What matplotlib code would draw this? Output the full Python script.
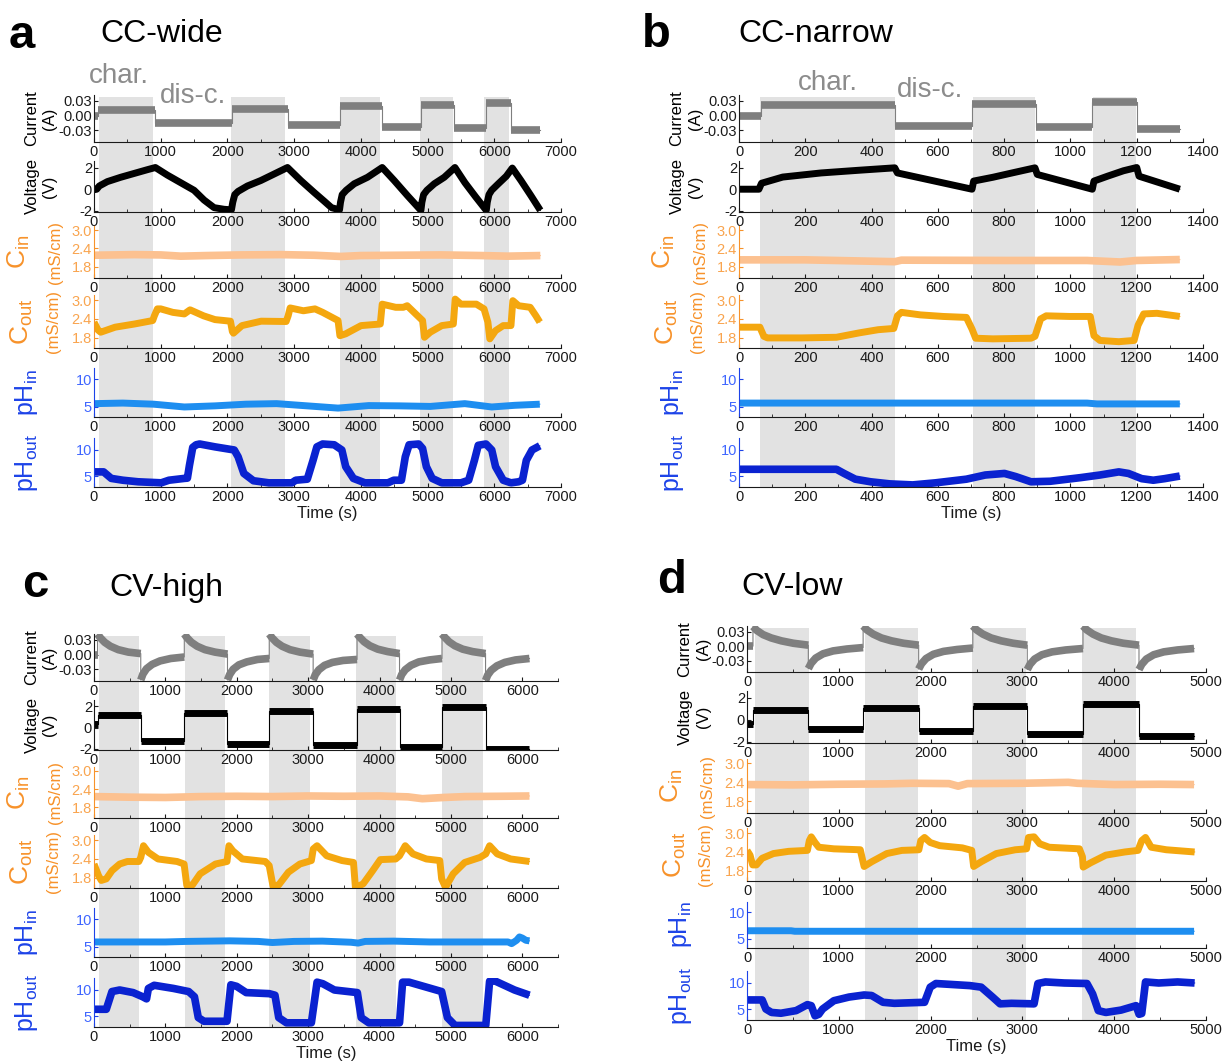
import numpy as np
import matplotlib.pyplot as plt
from matplotlib import transforms
from matplotlib.ticker import MultipleLocator, FormatStrFormatter

W, H = 1229, 1063

plt.rcParams['font.family'] = ['Liberation Sans', 'DejaVu Sans']
plt.rcParams['mathtext.default'] = 'regular'
plt.rcParams['axes.unicode_minus'] = False

# ---------------- panel a : CC-wide ----------------
a_bands = [(75, 880), (2057, 2863), (3690, 4290), (4880, 5387), (5848, 6222)]
a_cur_t = [0, 60, 60, 910, 910, 2074, 2074, 2909, 2909, 3686, 3686, 4320, 4320,
           4907, 4907, 5403, 5403, 5875, 5875, 6250, 6250, 6690]
a_cur_v = [0.0, 0.0, 0.012, 0.012, -0.016, -0.016, 0.014, 0.014, -0.020, -0.020,
           0.019, 0.019, -0.024, -0.024, 0.022, 0.022, -0.026, -0.026, 0.025, 0.025,
           -0.029, -0.029]
a_volt_t = [0, 40, 80, 200, 400, 600, 800, 920, 1100, 1300, 1500, 1650, 1800, 1950,
            2060, 2080, 2110, 2160, 2300, 2500, 2700, 2900, 3100, 3300, 3450, 3560,
            3680, 3695, 3720, 3780, 3900, 4100, 4320, 4500, 4700, 4900, 4915, 4940,
            4990, 5100, 5250, 5410, 5560, 5720, 5880, 5895, 5920, 5960, 6060, 6180,
            6270, 6400, 6550, 6690]
a_volt_v = [-0.05, 0.0, 0.3, 0.7, 1.1, 1.45, 1.8, 2.0, 1.3, 0.6, -0.1, -1.0, -1.7,
            -1.85, -1.9, -1.2, -0.5, -0.2, 0.3, 0.8, 1.4, 2.0, 0.8, -0.3, -1.1, -1.7,
            -1.9, -1.2, -0.5, -0.1, 0.5, 1.1, 2.0, 0.8, -0.6, -1.95, -1.2, -0.5, -0.1,
            0.5, 1.1, 2.0, 0.6, -0.7, -1.95, -1.2, -0.5, -0.1, 0.5, 1.2, 1.95, 0.8,
            -0.6, -1.95]
a_cin_t = [0, 600, 1000, 1300, 1700, 2200, 2800, 3300, 3700, 4000, 4600, 5200, 5800,
           6200, 6690]
a_cin_v = [2.18, 2.2, 2.19, 2.15, 2.17, 2.19, 2.2, 2.18, 2.14, 2.17, 2.18, 2.19, 2.17,
           2.15, 2.17]
a_cout_t = [0, 60, 100, 317, 605, 880, 905, 950, 1000, 1181, 1354, 1440, 1642, 1814,
            2045, 2074, 2090, 2218, 2506, 2880, 2910, 2940, 3139, 3312, 3427, 3658,
            3686, 3773, 4003, 4291, 4320, 4522, 4637, 4694, 4925, 4954, 5040, 5213,
            5386, 5414, 5500, 5731, 5846, 5904, 5933, 6019, 6134, 6250, 6278, 6365,
            6538, 6624, 6682]
a_cout_v = [2.3, 2.05, 1.98, 2.14, 2.24, 2.35, 2.5, 2.72, 2.72, 2.61, 2.56, 2.69, 2.5,
            2.38, 2.33, 2.0, 1.95, 2.19, 2.33, 2.32, 2.5, 2.75, 2.66, 2.72, 2.61, 2.35,
            1.87, 1.93, 2.19, 2.24, 2.87, 2.77, 2.77, 2.82, 2.35, 1.82, 1.98, 2.19,
            2.24, 3.03, 2.87, 2.87, 2.72, 2.3, 1.77, 2.03, 2.19, 2.19, 2.98, 2.82,
            2.77, 2.5, 2.3]
a_phin_t = [0, 432, 893, 1354, 1814, 2275, 2736, 3197, 3658, 4118, 4579, 5040, 5558,
            5962, 6307, 6682]
a_phin_v = [5.6, 5.7, 5.5, 5.0, 5.2, 5.5, 5.6, 5.2, 4.8, 5.25, 5.2, 5.1, 5.6, 5.0, 5.3,
            5.5]
a_phout_t = [0, 144, 259, 432, 662, 1008, 1123, 1354, 1400, 1430, 1480, 1530, 1584,
             1814, 2102, 2160, 2246, 2390, 2621, 2966, 3024, 3197, 3283, 3341, 3427,
             3600, 3715, 3773, 3888, 4061, 4406, 4493, 4608, 4666, 4723, 4867, 4925,
             4982, 5069, 5213, 5501, 5616, 5702, 5760, 5875, 5962, 6019, 6134, 6250,
             6365, 6422, 6480, 6566, 6653, 6682]
a_phout_v = [5.8, 5.8, 4.55, 4.2, 3.9, 3.7, 4.2, 4.55, 4.6, 7.0, 10.5, 11.0, 11.15,
             10.6, 10.0, 8.7, 5.5, 4.1, 3.7, 3.7, 4.2, 4.4, 8.0, 10.6, 11.15, 11.0,
             10.0, 6.8, 4.55, 3.7, 3.7, 4.2, 4.2, 8.7, 11.0, 11.15, 10.3, 6.8, 4.55,
             3.7, 3.7, 4.2, 8.0, 10.9, 11.15, 10.0, 6.8, 4.2, 3.7, 3.9, 4.2, 8.0, 10.0,
             10.6, 10.8]

# ---------------- panel b : CC-narrow ----------------
b_bands = [(63, 470), (705, 893), (1069, 1198)]
b_cur_t = [0, 65, 65, 472, 472, 703, 703, 895, 895, 1065, 1065, 1200, 1200, 1330]
b_cur_v = [0.0, 0.0, 0.022, 0.022, -0.021, -0.021, 0.023, 0.023, -0.024, -0.024,
           0.027, 0.027, -0.027, -0.027]
b_volt_t = [0, 60, 68, 132, 248, 363, 470, 478, 703, 708, 766, 824, 893, 900, 1066,
            1071, 1112, 1160, 1200, 1207, 1330]
b_volt_v = [0.0, 0.0, 0.55, 1.12, 1.5, 1.75, 1.97, 1.5, 0.0, 0.75, 1.1, 1.5, 1.97,
            1.36, 0.0, 0.75, 1.2, 1.7, 2.0, 1.2, 0.0]
b_cin_t = [0, 200, 470, 490, 800, 1050, 1150, 1200, 1330]
b_cin_v = [2.03, 2.03, 1.97, 2.02, 2.01, 2.01, 1.96, 2.01, 2.04]
b_cout_t = [0, 63, 75, 86, 190, 294, 363, 420, 467, 478, 490, 547, 616, 686, 703, 714,
            766, 881, 893, 910, 927, 997, 1060, 1071, 1089, 1146, 1192, 1204, 1221,
            1261, 1330]
b_cout_v = [2.14, 2.14, 1.85, 1.8, 1.8, 1.82, 1.96, 2.06, 2.1, 2.5, 2.61, 2.53, 2.48,
            2.45, 2.08, 1.79, 1.77, 1.79, 1.85, 2.4, 2.5, 2.48, 2.48, 1.87, 1.72, 1.68,
            1.72, 2.2, 2.56, 2.58, 2.48]
b_phin_t = [0, 1050, 1080, 1330]
b_phin_v = [5.7, 5.7, 5.55, 5.55]
b_phout_t = [0, 294, 317, 351, 397, 455, 524, 593, 686, 743, 801, 835, 881, 939, 1031,
             1089, 1146, 1175, 1215, 1250, 1284, 1330]
b_phout_v = [6.3, 6.3, 5.5, 4.4, 3.9, 3.5, 3.3, 3.7, 4.4, 5.2, 5.5, 4.9, 3.9, 4.0, 4.7,
             5.2, 5.8, 5.5, 4.5, 4.2, 4.5, 5.0]

# ---------------- panel c : CV-high ----------------
c_bands = [(64, 628), (1273, 1837), (2455, 3019), (3664, 4228), (4872, 5452)]
c_cur_t = [0, 50,
           50, 90, 150, 230, 340, 480, 655,
           655, 685, 735, 815, 925, 1075, 1265,
           1265, 1305, 1365, 1445, 1555, 1695, 1870,
           1870, 1900, 1950, 2030, 2140, 2290, 2455,
           2455, 2495, 2555, 2635, 2745, 2885, 3070,
           3070, 3100, 3150, 3230, 3340, 3490, 3685,
           3685, 3725, 3785, 3865, 3975, 4115, 4280,
           4280, 4310, 4360, 4440, 4550, 4700, 4875,
           4875, 4915, 4975, 5055, 5165, 5305, 5485,
           5485, 5515, 5565, 5645, 5755, 5905, 6100]
c_cur_v = [0.0, 0.0,
           0.042, 0.034, 0.025, 0.017, 0.010, 0.005, 0.002,
           -0.052, -0.040, -0.029, -0.020, -0.013, -0.008, -0.005,
           0.042, 0.034, 0.025, 0.017, 0.010, 0.005, 0.001,
           -0.052, -0.041, -0.030, -0.021, -0.015, -0.010, -0.008,
           0.042, 0.034, 0.025, 0.017, 0.010, 0.005, 0.001,
           -0.052, -0.041, -0.031, -0.022, -0.016, -0.012, -0.010,
           0.042, 0.035, 0.026, 0.018, 0.011, 0.006, 0.002,
           -0.052, -0.041, -0.031, -0.022, -0.015, -0.011, -0.008,
           0.042, 0.035, 0.026, 0.018, 0.011, 0.006, 0.002,
           -0.053, -0.042, -0.032, -0.023, -0.016, -0.011, -0.008]
c_volt_t = [0, 50, 50, 655, 655, 1265, 1265, 1870, 1870, 2455, 2455, 3070, 3070, 3685,
            3685, 4280, 4280, 4875, 4875, 5485, 5485, 6100]
c_volt_v = [0.35, 0.35, 1.2, 1.2, -1.25, -1.25, 1.4, 1.4, -1.5, -1.5, 1.6, 1.6, -1.65,
            -1.65, 1.8, 1.8, -1.85, -1.85, 1.95, 1.95, -2.0, -2.0]
c_cin_t = [0, 500, 1000, 1500, 2000, 2500, 3000, 3500, 4000, 4400, 4600, 4900, 5200,
           5700, 6100]
c_cin_v = [2.15, 2.13, 2.12, 2.15, 2.16, 2.15, 2.17, 2.16, 2.17, 2.14, 2.08, 2.12, 2.15,
           2.16, 2.17]
c_cout_t = [0, 64, 102, 172, 252, 360, 467, 628, 655, 693, 762, 897, 1165, 1262, 1300,
            1380, 1487, 1702, 1863, 1890, 1944, 2078, 2400, 2454, 2508, 2588, 2723,
            2884, 3045, 3072, 3125, 3260, 3474, 3635, 3662, 3770, 3904, 4011, 4226,
            4280, 4360, 4468, 4656, 4844, 4870, 4924, 5032, 5193, 5408, 5488, 5542,
            5649, 5837, 6100]
c_cout_v = [2.24, 1.87, 1.72, 1.77, 2.03, 2.24, 2.32, 2.32, 2.45, 2.82, 2.61, 2.4, 2.32,
            2.24, 1.56, 1.58, 1.93, 2.24, 2.32, 2.82, 2.66, 2.4, 2.32, 2.19, 1.54, 1.58,
            1.98, 2.24, 2.35, 2.72, 2.82, 2.5, 2.35, 2.29, 1.5, 1.61, 2.03, 2.38, 2.4,
            2.5, 2.82, 2.56, 2.4, 2.35, 1.77, 1.5, 1.93, 2.29, 2.45, 2.56, 2.82, 2.56,
            2.4, 2.32]
c_phin_t = [0, 1000, 1300, 1900, 2300, 2500, 2800, 3200, 3600, 3700, 3800, 4200, 4700,
            5200, 5800, 5850, 5920, 5960, 6000, 6050, 6100]
c_phin_v = [5.9, 5.9, 6.0, 6.1, 6.0, 5.8, 6.0, 6.05, 5.85, 5.7, 6.0, 6.05, 5.9, 5.9,
            5.9, 5.6, 6.2, 6.8, 6.6, 6.2, 6.1]
c_phout_t = [0, 172, 252, 360, 548, 682, 736, 762, 843, 1112, 1326, 1407, 1461, 1541,
             1863, 1917, 1998, 2132, 2454, 2535, 2588, 2696, 3045, 3125, 3206, 3367,
             3689, 3743, 3850, 4280, 4323, 4414, 4870, 4951, 5058, 5488, 5542, 5622,
             5891, 6100]
c_phout_v = [6.3, 6.3, 9.7, 10.0, 9.5, 8.7, 8.3, 10.3, 10.9, 10.3, 9.7, 8.7, 4.7, 4.0,
             4.0, 11.0, 10.7, 9.5, 9.3, 9.0, 4.7, 3.7, 3.7, 11.5, 11.2, 10.0, 9.5, 4.7,
             3.7, 3.7, 11.5, 11.5, 9.7, 4.7, 3.2, 3.2, 11.7, 11.7, 10.0, 9.0]

# ---------------- panel d : CV-low ----------------
d_bands = [(82, 671), (1284, 1864), (2453, 3037), (3654, 4239)]
d_cur_t = [0, 65,
           65, 105, 175, 265, 375, 505, 668,
           668, 698, 748, 828, 938, 1088, 1265,
           1265, 1305, 1375, 1465, 1575, 1705, 1870,
           1870, 1900, 1950, 2030, 2140, 2290, 2460,
           2460, 2500, 2570, 2660, 2770, 2900, 3053,
           3053, 3083, 3133, 3213, 3323, 3473, 3660,
           3660, 3700, 3770, 3860, 3970, 4100, 4270,
           4270, 4300, 4350, 4430, 4540, 4690, 4870]
d_cur_v = [0.0, 0.0,
           0.041, 0.033, 0.024, 0.017, 0.011, 0.006, 0.002,
           -0.047, -0.036, -0.025, -0.016, -0.010, -0.006, -0.003,
           0.042, 0.034, 0.025, 0.017, 0.011, 0.006, 0.002,
           -0.048, -0.037, -0.026, -0.017, -0.011, -0.007, -0.004,
           0.042, 0.034, 0.025, 0.017, 0.011, 0.006, 0.002,
           -0.049, -0.038, -0.027, -0.018, -0.012, -0.008, -0.005,
           0.042, 0.034, 0.025, 0.017, 0.011, 0.006, 0.002,
           -0.049, -0.038, -0.027, -0.018, -0.012, -0.008, -0.005]
d_volt_t = [0, 65, 65, 668, 668, 1265, 1265, 1870, 1870, 2460, 2460, 3053, 3053, 3660,
            3660, 4270, 4270, 4870]
d_volt_v = [-0.4, -0.4, 0.85, 0.85, -0.85, -0.85, 1.05, 1.05, -1.05, -1.05, 1.25, 1.25,
            -1.25, -1.25, 1.45, 1.45, -1.45, -1.45]
d_cin_t = [0, 500, 1000, 1500, 1800, 2200, 2300, 2400, 3000, 3500, 3600, 4000, 4500,
           4870]
d_cin_v = [2.33, 2.32, 2.34, 2.35, 2.37, 2.36, 2.28, 2.36, 2.37, 2.4, 2.37, 2.33, 2.34,
           2.33]
d_cout_t = [0, 33, 62, 103, 165, 288, 453, 658, 679, 700, 741, 782, 946, 1234, 1255,
            1276, 1358, 1523, 1687, 1872, 1893, 1934, 1996, 2099, 2346, 2448, 2469,
            2551, 2716, 2922, 3045, 3066, 3127, 3189, 3292, 3621, 3654, 3662, 3745,
            3909, 4115, 4259, 4300, 4341, 4403, 4568, 4876]
d_cout_v = [2.45, 2.3, 1.99, 1.99, 2.2, 2.35, 2.42, 2.45, 2.76, 2.88, 2.7, 2.55, 2.5,
            2.47, 2.2, 1.94, 2.09, 2.35, 2.45, 2.47, 2.76, 2.86, 2.7, 2.6, 2.53, 2.45,
            1.94, 2.09, 2.35, 2.47, 2.5, 2.86, 2.88, 2.66, 2.55, 2.5, 2.25, 1.92, 2.06,
            2.3, 2.4, 2.45, 2.76, 2.86, 2.55, 2.47, 2.4]
d_phin_t = [0, 480, 520, 4870]
d_phin_v = [6.5, 6.5, 6.4, 6.4]
d_phout_t = [0, 165, 206, 267, 370, 535, 658, 700, 741, 782, 823, 946, 1111, 1276, 1358,
             1481, 1605, 1934, 1996, 2058, 2428, 2551, 2675, 2757, 2881, 3127, 3169,
             3251, 3457, 3703, 3765, 3827, 3909, 4074, 4238, 4271, 4300, 4341, 4485,
             4691, 4876]
d_phout_v = [6.75, 6.75, 5.0, 4.35, 4.2, 4.7, 5.85, 5.65, 3.7, 4.0, 5.0, 6.6, 7.3, 7.7,
             7.6, 6.3, 6.1, 6.3, 9.2, 9.9, 9.5, 9.2, 7.3, 6.0, 6.1, 6.0, 9.9, 10.2, 10.0,
             9.9, 7.9, 4.7, 4.35, 4.8, 5.65, 4.0, 4.15, 10.2, 10.0, 10.2, 10.0]

# ---------------- styling ----------------
CUR_C = '#7f7f7f'
VOLT_C = '#000000'
CIN_C = '#fcc190'
COUT_C = '#f4a70f'
PHIN_C = '#1e8ef0'
PHOUT_C = '#0a22d0'
C_LABEL = '#f7922a'
C_TICK = '#f9a44e'
PH_LABEL = '#1d43e8'
PH_TICK = '#3f66ff'
BAND = '#e2e2e2'
NOTE = '#8c8c8c'
TXT = '#1a1a1a'

# (ylim, yticks, fmt, spine colour, tick label colour, labels [(text, dx, size, colour)], line colour, lw)
QUANT = [
    ((-0.054, 0.042), [-0.03, 0.0, 0.03], '%.2f', TXT, TXT,
     [('Current', -62, 12, 'black'), ('(A)', -44, 12, 'black')], CUR_C, 5.5),
    ((-2.1, 2.6), [-2, 0, 2], '%d', TXT, TXT,
     [('Voltage', -62, 12, 'black'), ('(V)', -44, 12, 'black')], VOLT_C, 5),
    ((1.44, 3.13), [1.8, 2.4, 3.0], '%.1f', C_LABEL, C_TICK,
     [('C$_{in}$', -75, 19, C_LABEL), ('(mS/cm)', -39, 12, C_LABEL)], CIN_C, 5.5),
    ((1.48, 3.16), [1.8, 2.4, 3.0], '%.1f', C_LABEL, C_TICK,
     [('C$_{out}$', -72, 19, C_LABEL), ('(mS/cm)', -41, 12, C_LABEL)], COUT_C, 5),
    ((3.2, 12.0), [5, 10], '%d', PH_LABEL, PH_TICK,
     [('pH$_{in}$', -67, 18, PH_LABEL)], PHIN_C, 5),
    ((2.9, 12.3), [5, 10], '%d', PH_LABEL, PH_TICK,
     [('pH$_{out}$', -67, 18, PH_LABEL)], PHOUT_C, 5.5),
]


def px_axes(fig, x0, x1, top, bottom):
    return fig.add_axes([x0 / W, 1 - bottom / H, (x1 - x0) / W, (bottom - top) / H])


def draw_trace(ax, t, v, color, lw):
    t = np.asarray(t, float)
    v = np.asarray(v, float)
    ax.plot(t, v, color=color, lw=0.8)
    breaks = np.where(np.diff(t) == 0)[0] + 1
    for st, sv in zip(np.split(t, breaks), np.split(v, breaks)):
        ax.plot(st, sv, color=color, lw=lw, solid_capstyle='butt',
                solid_joinstyle='round')


def fig_text(fig, x, y, s, **kw):
    fig.text(x / W, 1 - y / H, s, **kw)


def make_panel(fig, x0, x1, rows, xmax, xstep, bands, series, letter, title,
               letter_xy, title_xy, notes=()):
    bg = px_axes(fig, x0, x1, rows[0][0] + 2, rows[-1][1])
    bg.set_xlim(0, xmax)
    bg.set_axis_off()
    for s, e in bands:
        bg.axvspan(s, e, color=BAND, lw=0)

    for (top, bottom), (t, v), q in zip(rows, series, QUANT):
        ylim, yticks, fmt, spc, tkc, labels, col, lw = q
        ax = px_axes(fig, x0, x1, top, bottom)
        ax.set_facecolor('none')
        draw_trace(ax, t, v, col, lw)
        ax.set_xlim(0, xmax)
        ax.set_ylim(*ylim)
        for sp in ('top', 'right'):
            ax.spines[sp].set_visible(False)
        ax.spines['left'].set_color(spc)
        ax.spines['bottom'].set_color(TXT)
        ax.xaxis.set_major_locator(MultipleLocator(xstep))
        ax.xaxis.set_minor_locator(MultipleLocator(xstep / 2))
        ax.set_yticks(yticks)
        ax.yaxis.set_major_formatter(FormatStrFormatter(fmt))
        ax.tick_params(axis='x', which='both', direction='in', length=3,
                       labelsize=10.5, pad=2.5, colors=TXT)
        ax.tick_params(axis='x', which='minor', length=2)
        ax.tick_params(axis='y', direction='in', length=3, labelsize=10.5, pad=1.5,
                       colors=spc, labelcolor=tkc)
        tr = transforms.blended_transform_factory(fig.transFigure, ax.transAxes)
        for txt, dx, size, c in labels:
            ax.text((x0 + dx) / W, 0.5, txt, transform=tr, rotation=90, ha='center',
                    va='center', fontsize=size, color=c)
    ax.set_xlabel('Time (s)', fontsize=12, labelpad=1, color=TXT)

    fig_text(fig, *letter_xy, letter, fontsize=34, fontweight='bold', va='baseline')
    fig_text(fig, *title_xy, title, fontsize=23, va='baseline')
    for x, y, s in notes:
        fig_text(fig, x, y, s, fontsize=20, color=NOTE, va='baseline')


def main() -> None:
    fig = plt.figure(figsize=(W / 100, H / 100), dpi=100)

    rows_ab = [(95, 142), (161, 212), (226, 278), (295, 348), (368, 417), (438, 487)]
    rows_c = [(634, 681), (700, 750), (767, 818), (835, 888), (908, 957), (978, 1027)]
    rows_d = [(626, 672), (691, 743), (759, 813), (828, 881), (902, 948), (971, 1020)]

    make_panel(fig, 94, 561, rows_ab, 7000, 1000, a_bands,
               [(a_cur_t, a_cur_v), (a_volt_t, a_volt_v), (a_cin_t, a_cin_v),
                (a_cout_t, a_cout_v), (a_phin_t, a_phin_v), (a_phout_t, a_phout_v)],
               'a', 'CC-wide', (9, 48), (100, 42),
               notes=[(89, 83, 'char.'), (160, 103, 'dis-c.')])
    make_panel(fig, 739, 1203, rows_ab, 1400, 200, b_bands,
               [(b_cur_t, b_cur_v), (b_volt_t, b_volt_v), (b_cin_t, b_cin_v),
                (b_cout_t, b_cout_v), (b_phin_t, b_phin_v), (b_phout_t, b_phout_v)],
               'b', 'CC-narrow', (642, 47), (738, 42),
               notes=[(798, 90, 'char.'), (897, 97, 'dis-c.')])
    make_panel(fig, 94, 558, rows_c, 6500, 1000, c_bands,
               [(c_cur_t, c_cur_v), (c_volt_t, c_volt_v), (c_cin_t, c_cin_v),
                (c_cout_t, c_cout_v), (c_phin_t, c_phin_v), (c_phout_t, c_phout_v)],
               'c', 'CV-high', (22, 597), (109, 596))
    make_panel(fig, 747, 1206, rows_d, 5000, 1000, d_bands,
               [(d_cur_t, d_cur_v), (d_volt_t, d_volt_v), (d_cin_t, d_cin_v),
                (d_cout_t, d_cout_v), (d_phin_t, d_phin_v), (d_phout_t, d_phout_v)],
               'd', 'CV-low', (657, 593), (741, 595))

    fig.savefig('out.png', dpi=100)


if __name__ == '__main__':
    main()
